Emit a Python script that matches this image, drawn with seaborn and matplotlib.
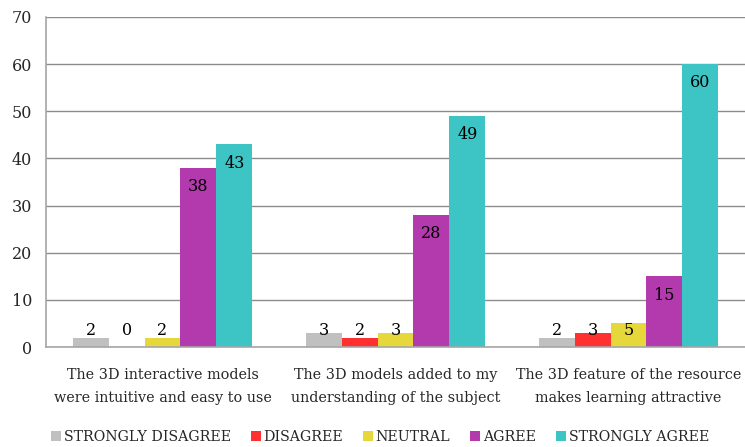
import matplotlib
matplotlib.use('Agg')
import matplotlib.pyplot as plt
from matplotlib.lines import Line2D
import seaborn as sns
import pandas as pd

categories = [
    'The 3D interactive models\nwere intuitive and easy to use',
    'The 3D models added to my\nunderstanding of the subject',
    'The 3D feature of the resource\nmakes learning attractive',
]
responses = ['STRONGLY DISAGREE', 'DISAGREE', 'NEUTRAL', 'AGREE', 'STRONGLY AGREE']
strongly_disagree = [2, 3, 2]
disagree = [0, 2, 3]
neutral = [2, 3, 5]
agree = [38, 28, 15]
strongly_agree = [43, 49, 60]

colors = ['#C0C0C0', '#FF3030', '#E6D83A', '#B23AAD', '#3DC5C5']

# long table for seaborn
series = [strongly_disagree, disagree, neutral, agree, strongly_agree]
rows = []
for resp, vals in zip(responses, series):
    for cat, v in zip(categories, vals):
        rows.append({'category': cat, 'response': resp, 'count': v})
df = pd.DataFrame(rows)

sns.set_style('white')
plt.rcParams['font.family'] = ['DejaVu Serif']

fig = plt.figure(figsize=(7.45, 4.47), dpi=100)
ax = fig.add_axes([46 / 745, 1 - 347 / 447, 699 / 745, 330 / 447])

sns.barplot(data=df, x='category', y='count', hue='response', order=categories,
            hue_order=responses, palette=colors, width=0.77, saturation=1,
            ax=ax, legend=False, linewidth=0)

# value labels: inside top for tall bars, fixed height for short ones
for container, resp in zip(ax.containers, responses):
    for bar in container:
        v = bar.get_height()
        y = v - 4 if v >= 10 else 3.5
        ax.text(bar.get_x() + bar.get_width() / 2, y, f'{int(v)}',
                ha='center', va='center', fontsize=11.5, color='black')

ax.set_ylim(0, 70)
ax.set_xlim(-0.5, 2.5)
ax.set_yticks(range(0, 71, 10))
ax.yaxis.grid(True, color='#8C8C8C', linewidth=1)
ax.set_axisbelow(True)
ax.set_xlabel('')
ax.set_ylabel('')

for s in ['top', 'right']:
    ax.spines[s].set_visible(False)
for s in ['left', 'bottom']:
    ax.spines[s].set_color('#A6A6A6')
    ax.spines[s].set_linewidth(1.2)

ax.set_xticks([-0.5, 0.5, 1.5, 2.5], minor=True)
ax.tick_params(axis='x', which='minor', length=6, color='#A6A6A6', width=1.2)
ax.tick_params(axis='x', which='major', length=0, pad=15, labelsize=10.4)
for lbl in ax.get_xticklabels():
    lbl.set_linespacing(1.8)
ax.tick_params(axis='y', length=6, color='#A6A6A6', width=1.2, labelsize=11.5, pad=4)

handles = [Line2D([0], [0], marker='s', linestyle='', markersize=7,
                  markerfacecolor=c, markeredgewidth=0) for c in colors]
fig.legend(handles, responses, loc='center', bbox_to_anchor=(0.51, 1 - 437 / 447),
           ncol=5, frameon=False, fontsize=10.2, handlelength=0.7,
           handletextpad=0.2, columnspacing=1.4)

fig.savefig('out.png', dpi=100)
